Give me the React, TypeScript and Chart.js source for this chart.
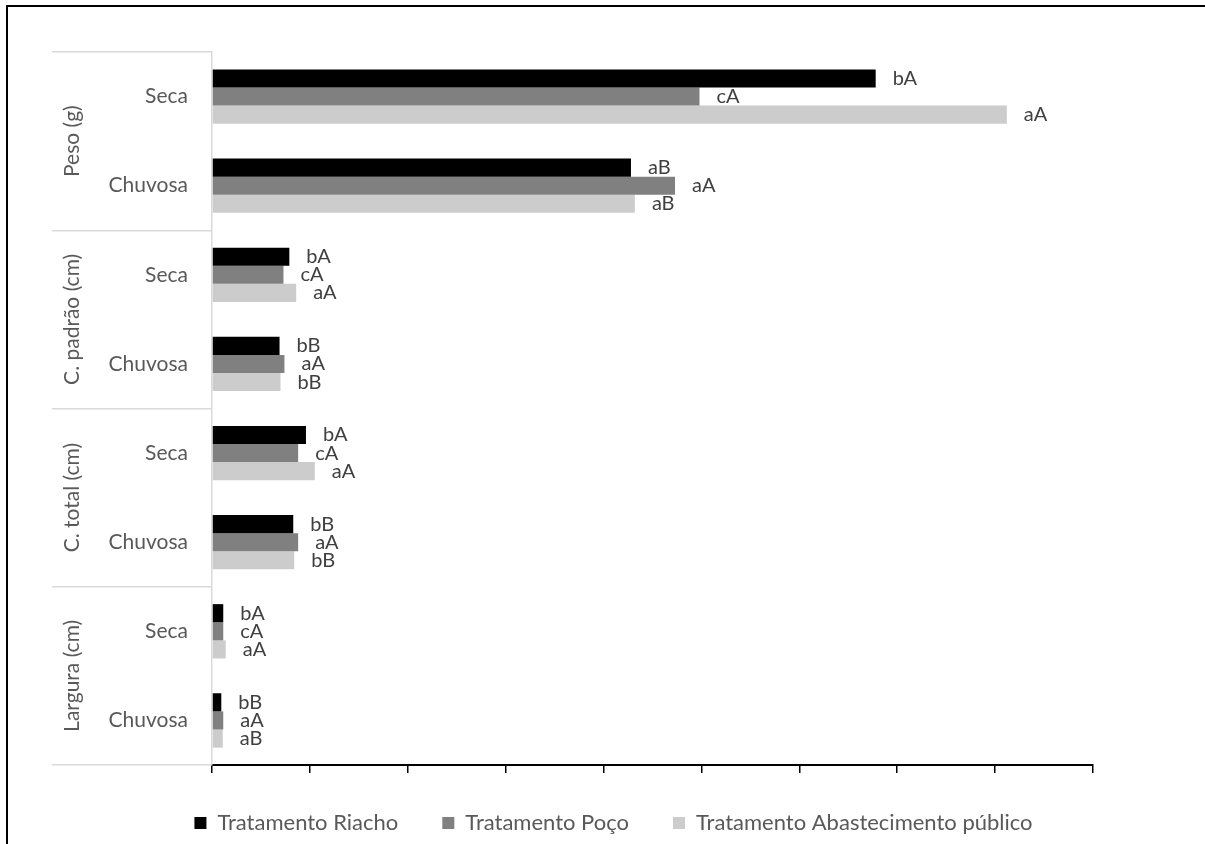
import React, { useEffect, useRef } from 'react';
import { Chart, registerables } from 'chart.js';

Chart.register(...registerables);

const seasons = ['Seca', 'Chuvosa', 'Seca', 'Chuvosa', 'Seca', 'Chuvosa', 'Seca', 'Chuvosa'];
const groups = ['Peso (g)', 'C. padrão (cm)', 'C. total (cm)', 'Largura (cm)'];
const seriesNames = ['Tratamento Riacho', 'Tratamento Poço', 'Tratamento Abastecimento público'];

const riacho = [67.8, 42.8, 7.9, 6.9, 9.6, 8.3, 1.15, 0.95];
const poco = [49.8, 47.3, 7.3, 7.4, 8.8, 8.8, 1.15, 1.15];
const abastecimento = [81.2, 43.2, 8.6, 7.0, 10.5, 8.4, 1.4, 1.1];

const riachoLabels = ['bA', 'aB', 'bA', 'bB', 'bA', 'bB', 'bA', 'bB'];
const pocoLabels = ['cA', 'aA', 'cA', 'aA', 'cA', 'aA', 'cA', 'aA'];
const abastecimentoLabels = ['aA', 'aB', 'aA', 'bB', 'aA', 'bB', 'aA', 'aB'];

const xMin = 0;
const xMax = 90;
const xStep = 10;

const FONT = 'Lato';
const TEXT = '#595959';

const dataLabelPlugin = {
  id: 'letterLabels',
  afterDatasetsDraw(chart: any) {
    const ctx = chart.ctx;
    const all = [riachoLabels, pocoLabels, abastecimentoLabels];
    ctx.save();
    ctx.font = `20px ${FONT}`;
    ctx.fillStyle = '#404040';
    ctx.textAlign = 'left';
    ctx.textBaseline = 'middle';
    chart.data.datasets.forEach((_ds: any, i: number) => {
      const meta = chart.getDatasetMeta(i);
      meta.data.forEach((bar: any, j: number) => {
        ctx.fillText(all[i][j], bar.x + 17, bar.y);
      });
    });
    ctx.restore();
  },
};

const groupLabelPlugin = {
  id: 'groupLabels',
  afterDraw(chart: any) {
    const ctx = chart.ctx;
    const y = chart.scales.y;
    ctx.save();
    ctx.font = `21px ${FONT}`;
    ctx.fillStyle = TEXT;
    ctx.textAlign = 'center';
    ctx.textBaseline = 'middle';
    groups.forEach((g, k) => {
      const cy = (y.getPixelForValue(2 * k) + y.getPixelForValue(2 * k + 1)) / 2;
      ctx.save();
      ctx.translate(72, cy);
      ctx.rotate(-Math.PI / 2);
      ctx.fillText(g, 0, 0);
      ctx.restore();
    });
    ctx.restore();
  },
};

export default function App() {
  const ref = useRef<HTMLCanvasElement | null>(null);

  useEffect(() => {
    if (!ref.current) return;
    const chart = new Chart(ref.current, {
      type: 'bar',
      data: {
        labels: seasons,
        datasets: [
          { label: seriesNames[0], data: riacho, backgroundColor: '#000000', borderWidth: 0 },
          { label: seriesNames[1], data: poco, backgroundColor: '#808080', borderWidth: 0 },
          { label: seriesNames[2], data: abastecimento, backgroundColor: '#cccccc', borderWidth: 0 },
        ],
      },
      options: {
        indexAxis: 'y',
        animation: false,
        responsive: true,
        maintainAspectRatio: false,
        layout: { padding: { left: 22, right: 0, top: 52, bottom: 0 } },
        datasets: { bar: { categoryPercentage: 0.61, barPercentage: 1 } },
        scales: {
          x: {
            type: 'linear',
            min: xMin,
            max: xMax,
            afterFit: (s: any) => { s.height = 3; },
            ticks: { stepSize: xStep, display: false },
            border: { display: true, color: '#000000', width: 2 },
            grid: { display: true, drawOnChartArea: false, drawTicks: true, tickLength: 8, color: '#000000', lineWidth: 1.5 },
          },
          y: {
            type: 'category',
            offset: true,
            afterFit: (s: any) => { s.width = 190; },
            border: { display: true, color: '#d9d9d9', width: 1.5 },
            grid: {
              display: true,
              offset: true,
              drawOnChartArea: false,
              drawTicks: true,
              tickLength: 160,
              lineWidth: 1.5,
              color: (c: any) => (c.index === undefined || c.index % 2 === 0 ? '#d9d9d9' : 'rgba(0,0,0,0)'),
            },
            ticks: { padding: -136, autoSkip: false, color: TEXT, font: { family: FONT, size: 21 } },
          },
          yRight: {
            type: 'category',
            position: 'right',
            afterFit: (s: any) => { s.width = 112; },
            grid: { display: false },
            border: { display: false },
            ticks: { display: false },
          },
        },
        plugins: {
          legend: {
            position: 'bottom',
            labels: { boxWidth: 12, boxHeight: 12, padding: 44, color: TEXT, font: { family: FONT, size: 22 } },
          },
          tooltip: { enabled: false },
        },
      },
      plugins: [dataLabelPlugin, groupLabelPlugin],
    } as any);
    return () => chart.destroy();
  }, []);

  return (
    <>
      <div style={{ position: 'absolute', left: 0, top: 0, width: 1205, height: 844 }}>
        <canvas ref={ref} style={{ display: 'block' }} />
      </div>
      <div
        style={{
          position: 'absolute', left: 6, top: 5, width: 1199, height: 839, boxSizing: 'border-box',
          borderLeft: '2px solid #000', borderTop: '2px solid #000', pointerEvents: 'none',
        }}
      />
    </>
  );
}
